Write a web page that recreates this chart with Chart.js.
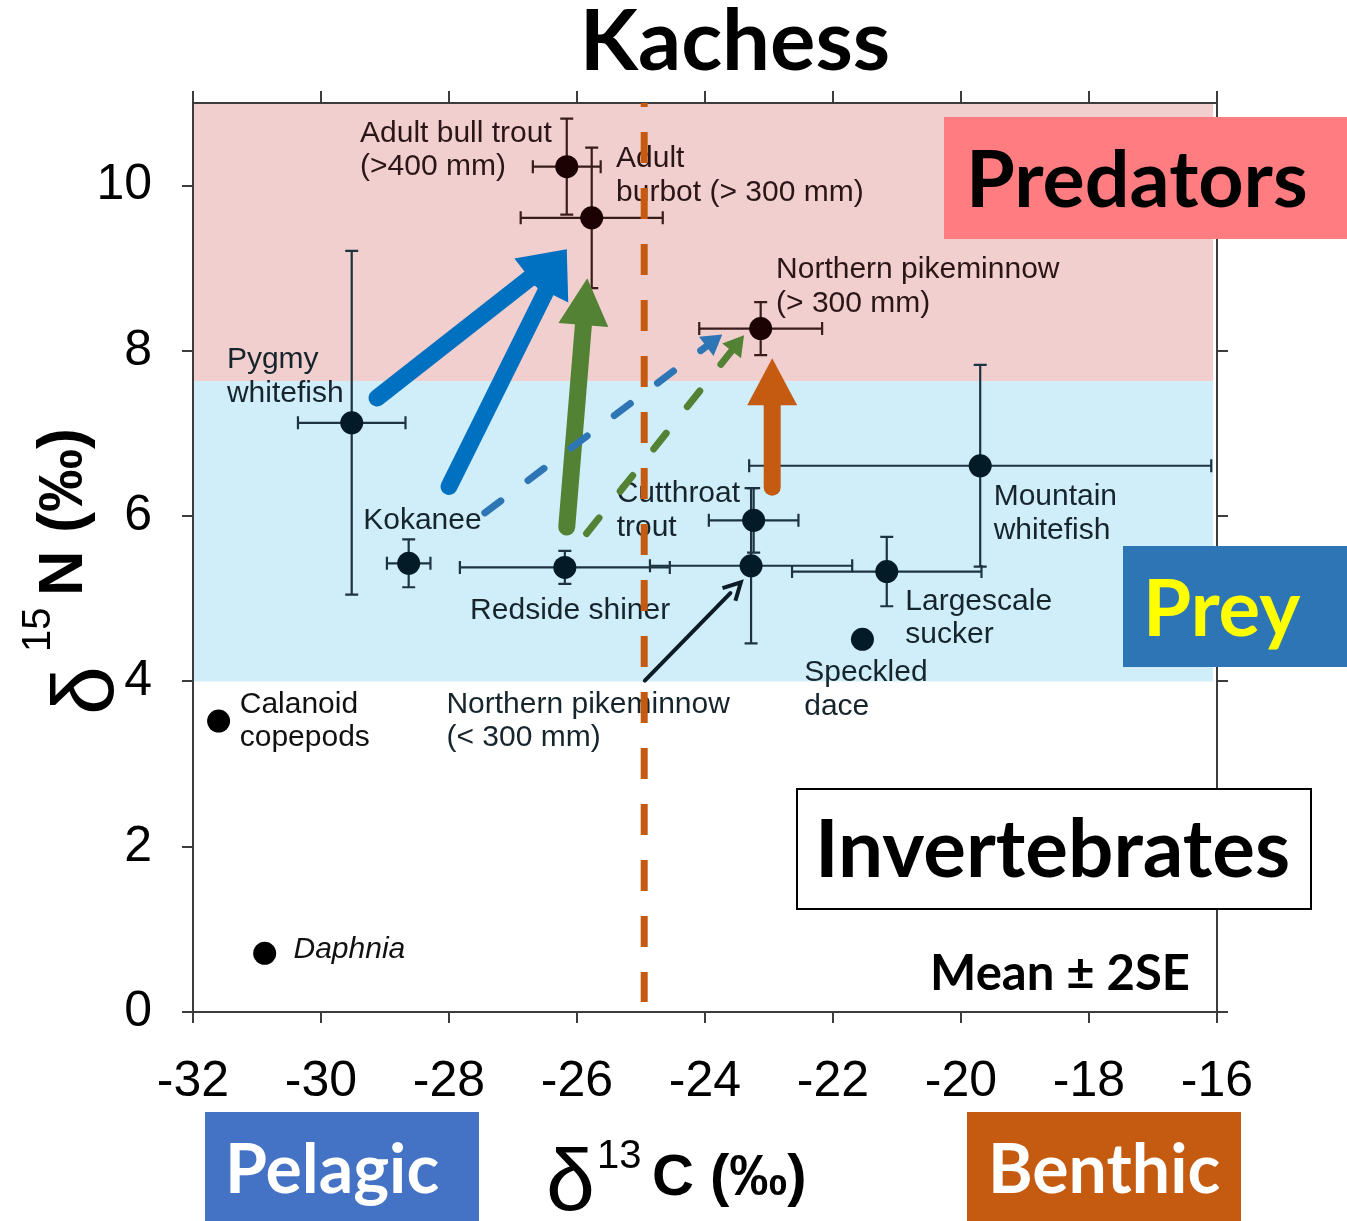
<!DOCTYPE html>
<html>
<head>
<meta charset="utf-8">
<title>Kachess</title>
<script src="https://cdn.jsdelivr.net/npm/chart.js@4/dist/chart.umd.min.js"></script>
<style>
  html, body { margin: 0; padding: 0; background: #ffffff; }
  #c { display: block; }
</style>
</head>
<body>
<canvas id="c" width="1347" height="1221"></canvas>
<script>
// ---- data: mean δ13C / δ15N (‰) with ±2SE for each taxon ----
const taxa = ['Adult bull trout', 'Adult burbot', 'Northern pikeminnow (> 300 mm)', 'Pygmy whitefish',
  'Kokanee', 'Redside shiner', 'Cutthroat trout', 'Northern pikeminnow (< 300 mm)', 'Largescale sucker',
  'Mountain whitefish', 'Speckled dace', 'Calanoid copepods', 'Daphnia'];
const d13C = [-26.16, -25.77, -23.13, -29.52, -28.63, -26.19, -23.24, -23.28, -21.16, -19.70, -21.54, -31.60, -30.88];
const d15N = [10.23, 9.61, 8.27, 7.13, 5.43, 5.38, 5.95, 5.40, 5.33, 6.61, 4.51, 3.52, 0.71];
const se2C = [0.53, 1.11, 0.96, 0.84, 0.34, 1.64, 0.70, 1.58, 1.48, 3.61, 0, 0, 0];
const se2N = [0.58, 0.85, 0.32, 2.08, 0.29, 0.20, 0.39, 0.94, 0.42, 1.22, 0, 0, 0];
const trophic = ['pred', 'pred', 'pred', 'prey', 'prey', 'prey', 'prey', 'prey', 'prey', 'prey', 'prey', 'inv', 'inv'];

// axis ranges and ticks
const xRange = [-32, -16];
const yRange = [0, 11];
const xStep = 2;
const yStep = 2;

// trophic bands (δ15N limits) and the pelagic / benthic divide (δ13C)
const bandPredators = [7.635, 11];
const bandPrey = [4.0, 7.635];
const bandRightC = -16.06;
const carbonDivide = -24.95;

// taxon label text and anchor (δ13C, δ15N of the first baseline)
const labelLines = [['Adult bull trout', '(>400 mm)'], ['Adult', 'burbot (> 300 mm)'], ['Northern pikeminnow', '(> 300 mm)'],
  ['Pygmy', 'whitefish'], ['Kokanee'], ['Redside shiner'], ['Cutthroat', 'trout'], ['Northern pikeminnow', '(< 300 mm)'],
  ['Largescale', 'sucker'], ['Mountain', 'whitefish'], ['Speckled', 'dace'], ['Calanoid', 'copepods'], ['Daphnia']];
const labelAnchor = [[-29.39, 10.53], [-25.39, 10.22], [-22.89, 8.88], [-31.47, 7.79], [-29.34, 5.84], [-27.67, 4.76],
  [-25.38, 6.17], [-28.04, 3.62], [-20.87, 4.87], [-19.49, 6.13], [-22.45, 4.00], [-31.27, 3.62], [-30.43, 0.65]];

// feeding links between groups (δ13C, δ15N of tail and tip)
const linkFrom = [[-29.125, 7.43], [-28.00, 6.36], [-26.16, 5.87], [-22.95, 6.35], [-27.44, 6.04], [-25.85, 5.79], [-24.94, 4.01]];
const linkTo   = [[-26.16, 9.23], [-26.16, 9.23], [-25.84, 8.88], [-22.95, 7.91], [-23.73, 8.20], [-23.39, 8.19], [-23.44, 5.20]];
const linkKind = ['thick', 'thick', 'thick', 'thick', 'dashed', 'dashed', 'thin'];
const linkColor = ['#0070c0', '#0070c0', '#548235', '#c55a11', '#2e75b6', '#548235', '#0c1c26'];

// ---- styles ----
const pointColor = { pred: '#1c0202', prey: '#031b27', inv: '#000000' };
const barColor = { pred: '#3a1c1c', prey: '#1d3440', inv: '#000000' };
const textColor = { pred: '#2a1616', prey: '#16242c', inv: '#111111' };
const axisColor = '#3c3c3c';
const tickFont = { family: "'Liberation Sans', Arial, sans-serif", size: 50 };
const boldFace = "Lato, 'Open Sans', sans-serif";

function px(chart, c) { return chart.scales.x.getPixelForValue(c); }
function py(chart, n) { return chart.scales.y.getPixelForValue(n); }

const backgroundBands = {
  id: 'backgroundBands',
  beforeDraw(chart) {
    const ctx = chart.ctx;
    const l = px(chart, xRange[0]), r = px(chart, bandRightC);
    ctx.save();
    ctx.fillStyle = '#ffffff';
    ctx.fillRect(0, 0, chart.width, chart.height);
    ctx.fillStyle = '#f2cfcf';
    ctx.fillRect(l, py(chart, bandPredators[1]), r - l, py(chart, bandPredators[0]) - py(chart, bandPredators[1]));
    ctx.fillStyle = '#cfeefa';
    ctx.fillRect(l, py(chart, bandPrey[1]), r - l, py(chart, bandPrey[0]) - py(chart, bandPrey[1]));
    ctx.restore();
  }
};

const errorBars = {
  id: 'errorBars',
  beforeDatasetsDraw(chart) {
    const ctx = chart.ctx;
    const cap = 6.5;
    ctx.save();
    ctx.lineWidth = 2.2;
    for (let i = 0; i < taxa.length; i++) {
      ctx.strokeStyle = barColor[trophic[i]];
      const x = px(chart, d13C[i]), y = py(chart, d15N[i]);
      if (se2C[i] > 0) {
        const a = px(chart, d13C[i] - se2C[i]), b = px(chart, d13C[i] + se2C[i]);
        ctx.beginPath();
        ctx.moveTo(a, y); ctx.lineTo(b, y);
        ctx.moveTo(a, y - cap); ctx.lineTo(a, y + cap);
        ctx.moveTo(b, y - cap); ctx.lineTo(b, y + cap);
        ctx.stroke();
      }
      if (se2N[i] > 0) {
        const a = py(chart, d15N[i] + se2N[i]), b = py(chart, d15N[i] - se2N[i]);
        ctx.beginPath();
        ctx.moveTo(x, a); ctx.lineTo(x, b);
        ctx.moveTo(x - cap, a); ctx.lineTo(x + cap, a);
        ctx.moveTo(x - cap, b); ctx.lineTo(x + cap, b);
        ctx.stroke();
      }
    }
    ctx.restore();
  }
};

function drawArrow(ctx, x0, y0, x1, y1, o) {
  const dx = x1 - x0, dy = y1 - y0, L = Math.hypot(dx, dy);
  const ux = dx / L, uy = dy / L;
  const bx = x1 - ux * o.head, by = y1 - uy * o.head;
  ctx.save();
  ctx.strokeStyle = o.color;
  ctx.fillStyle = o.color;
  ctx.lineWidth = o.width;
  ctx.lineCap = 'round';
  ctx.setLineDash(o.dash || []);
  ctx.beginPath();
  ctx.moveTo(x0, y0);
  ctx.lineTo(bx + ux * 2, by + uy * 2);
  ctx.stroke();
  ctx.setLineDash([]);
  if (o.open) {
    ctx.lineCap = 'butt';
    ctx.beginPath();
    ctx.moveTo(bx - uy * o.half, by + ux * o.half);
    ctx.lineTo(x1, y1);
    ctx.lineTo(bx + uy * o.half, by - ux * o.half);
    ctx.stroke();
  } else {
    ctx.beginPath();
    ctx.moveTo(x1, y1);
    ctx.lineTo(bx - uy * o.half, by + ux * o.half);
    ctx.lineTo(bx + uy * o.half, by - ux * o.half);
    ctx.closePath();
    ctx.fill();
  }
  ctx.restore();
}

const linkStyle = {
  thick: { width: 17, head: 47, half: 25 },
  dashed: { width: 7, head: 20, half: 12, dash: [20, 34] },
  thin: { width: 4, head: 17, half: 9, open: true }
};

const annotations = {
  id: 'annotations',
  afterDatasetsDraw(chart) {
    const ctx = chart.ctx;
    // taxon labels
    ctx.save();
    ctx.textBaseline = 'alphabetic';
    ctx.textAlign = 'left';
    for (let i = 0; i < taxa.length; i++) {
      const italic = taxa[i] === 'Daphnia';
      ctx.font = (italic ? 'italic ' : '') + "30px 'Liberation Sans', Arial, sans-serif";
      ctx.fillStyle = textColor[trophic[i]];
      const x = px(chart, labelAnchor[i][0]);
      const y = py(chart, labelAnchor[i][1]);
      labelLines[i].forEach((t, k) => ctx.fillText(t, x, y + k * 33.5));
    }
    ctx.restore();

    // pelagic / benthic divide
    ctx.save();
    ctx.strokeStyle = '#c55a11';
    ctx.lineWidth = 7;
    ctx.setLineDash([31, 25]);
    ctx.lineDashOffset = 27;
    const xd = px(chart, carbonDivide);
    ctx.beginPath();
    ctx.moveTo(xd, py(chart, yRange[1]));
    ctx.lineTo(xd, py(chart, 0.12));
    ctx.stroke();
    ctx.restore();

    // feeding links
    for (let i = 0; i < linkFrom.length; i++) {
      const s = Object.assign({ color: linkColor[i] }, linkStyle[linkKind[i]]);
      drawArrow(ctx, px(chart, linkFrom[i][0]), py(chart, linkFrom[i][1]),
        px(chart, linkTo[i][0]), py(chart, linkTo[i][1]), s);
    }
  }
};

function boxLabel(ctx, text, box, fill, stroke, textFill, size, tx, ty) {
  ctx.save();
  ctx.fillStyle = fill;
  ctx.fillRect(box[0], box[1], box[2], box[3]);
  if (stroke) {
    ctx.strokeStyle = stroke;
    ctx.lineWidth = 2;
    ctx.strokeRect(box[0] + 1, box[1] + 1, box[2] - 2, box[3] - 2);
  }
  ctx.fillStyle = textFill;
  ctx.font = 'bold ' + size + 'px ' + boldFace;
  ctx.textBaseline = 'alphabetic';
  ctx.textAlign = 'left';
  ctx.fillText(text, tx, ty);
  ctx.restore();
}

const decorations = {
  id: 'decorations',
  afterDraw(chart) {
    const ctx = chart.ctx;

    // title
    ctx.save();
    ctx.fillStyle = '#000';
    ctx.font = 'bold 85px ' + boldFace;
    ctx.textAlign = 'center';
    ctx.textBaseline = 'alphabetic';
    ctx.fillText('Kachess', 735, 70);
    ctx.restore();

    // group boxes
    boxLabel(ctx, 'Predators', [944, 117, 403, 122], '#ff7c80', null, '#000', 79, 966, 207);
    boxLabel(ctx, 'Prey', [1123, 546, 224, 121], '#2e75b6', null, '#ffff00', 78, 1143, 636);
    boxLabel(ctx, 'Invertebrates', [796, 788, 516, 122], '#ffffff', '#000000', '#000', 80, 815, 877);
    boxLabel(ctx, 'Pelagic', [205, 1112, 274, 109], '#4472c4', null, '#ffffff', 68, 225, 1193);
    boxLabel(ctx, 'Benthic', [967, 1112, 274, 109], '#c55a11', null, '#ffffff', 68, 988, 1193);

    // statistic note
    ctx.save();
    ctx.fillStyle = '#000';
    ctx.font = 'bold 49px ' + boldFace;
    ctx.textAlign = 'right';
    ctx.fillText('Mean \u00b1 2SE', 1190, 990);
    ctx.restore();

    // x axis title: δ13C (‰)
    ctx.save();
    ctx.fillStyle = '#000';
    ctx.textBaseline = 'alphabetic';
    ctx.textAlign = 'left';
    ctx.font = "88px 'Liberation Sans', Arial, sans-serif";
    ctx.fillText('\u03b4', 546, 1210);
    ctx.font = "40px 'Liberation Sans', Arial, sans-serif";
    ctx.fillText('13', 597, 1168);
    ctx.font = "bold 58px 'Liberation Sans', Arial, sans-serif";
    ctx.fillText('C (\u2030)', 652, 1195);
    ctx.restore();

    // y axis title: δ15N (‰)
    const rot = (x, y, font, txt) => {
      ctx.save();
      ctx.translate(x, y);
      ctx.rotate(-Math.PI / 2);
      ctx.font = font;
      ctx.fillStyle = '#000';
      ctx.textBaseline = 'alphabetic';
      ctx.textAlign = 'left';
      ctx.fillText(txt, 0, 0);
      ctx.restore();
    };
    rot(113, 715, "88px 'Liberation Sans', Arial, sans-serif", '\u03b4');
    rot(50, 652, "40px 'Liberation Sans', Arial, sans-serif", '15');
    rot(82, 596, "bold 63px 'Liberation Sans', Arial, sans-serif", 'N (\u2030)');
  }
};

const mirrorTicks = (size) => ({
  drawOnChartArea: false,
  drawTicks: true,
  tickLength: size,
  tickWidth: 2,
  color: axisColor,
  lineWidth: 2
});

new Chart(document.getElementById('c'), {
  type: 'scatter',
  data: {
    datasets: [{
      label: 'δ15N vs δ13C',
      data: taxa.map((t, i) => ({ x: d13C[i], y: d15N[i] })),
      pointRadius: 11.5,
      pointHoverRadius: 11.5,
      pointBorderWidth: 0,
      pointBackgroundColor: trophic.map(g => pointColor[g]),
      xAxisID: 'x',
      yAxisID: 'y'
    }]
  },
  options: {
    responsive: false,
    animation: false,
    devicePixelRatio: 1,
    layout: { padding: 0 },
    plugins: { legend: { display: false }, title: { display: false }, tooltip: { enabled: false } },
    scales: {
      x: {
        type: 'linear', position: 'bottom', min: xRange[0], max: xRange[1],
        ticks: { stepSize: xStep, font: tickFont, color: '#000', padding: 29, autoSkip: false, maxRotation: 0 },
        grid: mirrorTicks(11),
        border: { display: true, color: axisColor, width: 2 },
        afterFit(s) { s.height = 209; }
      },
      y: {
        type: 'linear', position: 'left', min: yRange[0], max: yRange[1],
        ticks: { stepSize: yStep, includeBounds: false, font: tickFont, color: '#000', padding: 30 },
        grid: mirrorTicks(11),
        border: { display: true, color: axisColor, width: 2 },
        afterFit(s) { s.width = 193; }
      },
      x2: {
        type: 'linear', position: 'top', min: xRange[0], max: xRange[1],
        ticks: { stepSize: xStep, display: false },
        grid: mirrorTicks(12),
        border: { display: true, color: axisColor, width: 2 },
        afterFit(s) { s.height = 103; }
      },
      y2: {
        type: 'linear', position: 'right', min: yRange[0], max: yRange[1],
        ticks: { stepSize: yStep, includeBounds: false, display: false },
        grid: mirrorTicks(11),
        border: { display: true, color: axisColor, width: 2 },
        afterFit(s) { s.width = 130; }
      }
    }
  },
  plugins: [backgroundBands, errorBars, annotations, decorations]
});
</script>
</body>
</html>
